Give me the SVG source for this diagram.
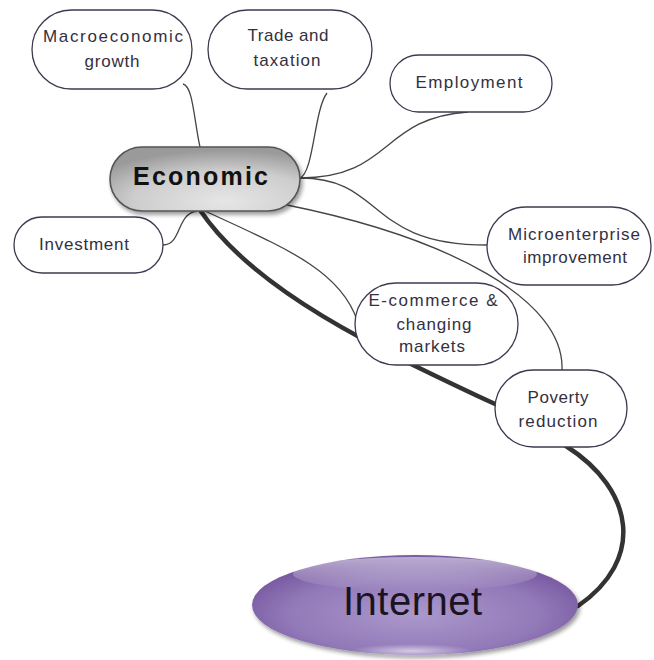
<svg xmlns="http://www.w3.org/2000/svg" width="654" height="660" viewBox="0 0 654 660">
<defs>
<radialGradient id="gEcon" cx="0.6" cy="0.85" r="0.8">
<stop offset="0" stop-color="#e6e6e6"/>
<stop offset="0.6" stop-color="#cdcdcd"/>
<stop offset="1" stop-color="#9a9a9a"/>
</radialGradient>
<radialGradient id="gNet" cx="0.5" cy="0.6" r="0.55">
<stop offset="0" stop-color="#ab98cc"/>
<stop offset="0.7" stop-color="#9279b8"/>
<stop offset="1" stop-color="#7a5ca3"/>
</radialGradient>
<linearGradient id="gHi" x1="0" y1="0" x2="0" y2="1">
<stop offset="0" stop-color="#ffffff" stop-opacity="0.5"/>
<stop offset="1" stop-color="#ffffff" stop-opacity="0"/>
</linearGradient>
<radialGradient id="gLow" cx="0.5" cy="0.5" r="0.5">
<stop offset="0" stop-color="#ffffff" stop-opacity="0.6"/>
<stop offset="1" stop-color="#ffffff" stop-opacity="0"/>
</radialGradient>
<filter id="sh" x="-10%" y="-10%" width="125%" height="130%">
<feGaussianBlur in="SourceAlpha" stdDeviation="2"/>
<feOffset dx="2" dy="3"/>
<feComponentTransfer><feFuncA type="linear" slope="0.4"/></feComponentTransfer>
<feMerge><feMergeNode/><feMergeNode in="SourceGraphic"/></feMerge>
</filter>
</defs>
<style>
.box{fill:#ffffff;stroke:#3f3850;stroke-width:1.3}
.lbl{font-family:"Liberation Sans",Arial,sans-serif;font-size:17px;fill:#34303f;text-anchor:middle}
.thin{fill:none;stroke:#444444;stroke-width:1.3}
.thick{fill:none;stroke:#333333;stroke-width:4.5;stroke-linecap:round}
</style>
<rect width="654" height="660" fill="#ffffff"/>
<g id="connectors">
<path class="thin" d="M183,84 C193,86 194,120 200,147"/>
<path class="thin" d="M327,93 C314,110 314,172 300,178"/>
<path class="thin" d="M468,112 C380,118 392,178 300,178"/>
<path class="thin" d="M300,178 C385,178 365,245 487,245"/>
<path class="thin" d="M287,205 C450,238 565,300 562,370"/>
<path class="thin" d="M205,211 C285,248 340,270 357,320"/>
<path class="thin" d="M163,245 C182,245 176,214 197,211"/>
<path class="thick" d="M200,210 C255,292 380,350 497,405"/>
<path class="thick" d="M566,446 C635,490 645,560 578,606"/>
</g>
<g id="n-macro">
<rect class="box" x="32" y="10" width="160" height="79" rx="39.5"/>
<text class="lbl" x="113" y="42" textLength="140" lengthAdjust="spacing">Macroeconomic</text>
<text class="lbl" x="112" y="67" textLength="55" lengthAdjust="spacing">growth</text>
</g>
<g id="n-trade">
<rect class="box" x="208" y="10" width="164" height="79" rx="39.5"/>
<text class="lbl" x="288" y="41" textLength="81" lengthAdjust="spacing">Trade and</text>
<text class="lbl" x="287" y="66" textLength="67" lengthAdjust="spacing">taxation</text>
</g>
<g id="n-employment">
<rect class="box" x="390" y="55" width="162" height="57" rx="28.5"/>
<text class="lbl" x="469" y="88" textLength="107" lengthAdjust="spacing">Employment</text>
</g>
<g id="n-micro">
<rect class="box" x="487" y="207" width="164" height="78" rx="39"/>
<text class="lbl" x="574" y="240" textLength="132" lengthAdjust="spacing">Microenterprise</text>
<text class="lbl" x="575" y="263" textLength="104" lengthAdjust="spacing">improvement</text>
</g>
<g id="n-investment">
<rect class="box" x="14" y="217" width="149" height="56" rx="28"/>
<text class="lbl" x="84" y="250" textLength="90" lengthAdjust="spacing">Investment</text>
</g>
<g id="n-ecommerce">
<rect class="box" x="355" y="283" width="163" height="82" rx="41"/>
<text class="lbl" x="433" y="306" textLength="129" lengthAdjust="spacing">E-commerce &amp;</text>
<text class="lbl" x="434" y="330" textLength="75" lengthAdjust="spacing">changing</text>
<text class="lbl" x="432" y="352" textLength="66" lengthAdjust="spacing">markets</text>
</g>
<g id="n-poverty">
<rect class="box" x="495" y="370" width="132" height="77" rx="38.5"/>
<text class="lbl" x="558" y="403" textLength="61" lengthAdjust="spacing">Poverty</text>
<text class="lbl" x="558" y="427" textLength="79" lengthAdjust="spacing">reduction</text>
</g>
<g id="n-economic">
<rect x="110" y="147" width="190" height="64" rx="32" fill="url(#gEcon)" stroke="#555555" stroke-width="1.6" filter="url(#sh)"/>
<text x="200.5" y="185" font-family="'Liberation Sans',Arial,sans-serif" font-size="25" font-weight="bold" fill="#111111" text-anchor="middle" textLength="135" lengthAdjust="spacing">Economic</text>
</g>
<g id="n-internet">
<ellipse cx="415" cy="605" rx="163" ry="50" fill="url(#gNet)" filter="url(#sh)"/>
<ellipse cx="415" cy="574" rx="122" ry="17" fill="url(#gHi)"/>
<ellipse cx="412" cy="651" rx="62" ry="7" fill="url(#gLow)"/>
<text x="412.5" y="615" font-family="'Liberation Sans',Arial,sans-serif" font-size="40" fill="#1a1420" text-anchor="middle" textLength="139" lengthAdjust="spacing">Internet</text>
</g>
</svg>
